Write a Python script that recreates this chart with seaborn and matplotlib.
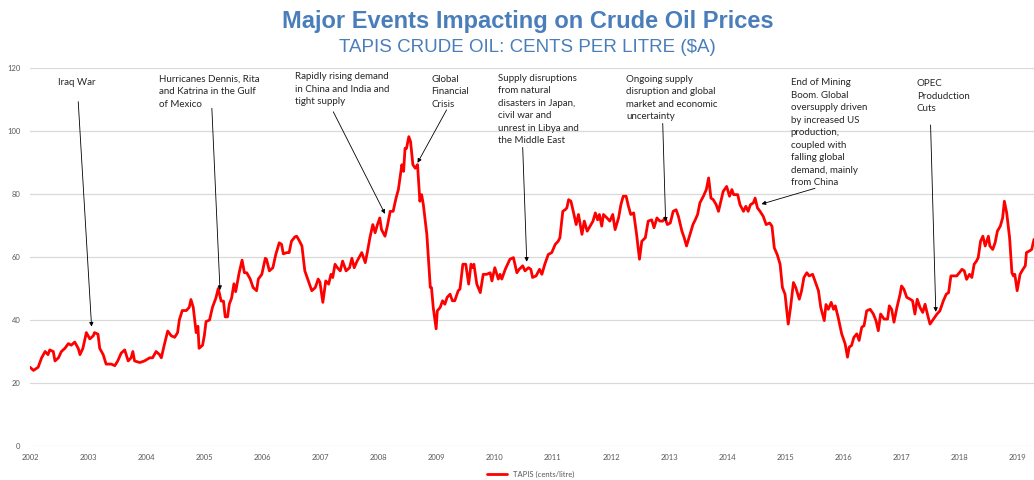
import matplotlib
matplotlib.use('Agg')
import pandas as pd
import matplotlib.pyplot as plt
import seaborn as sns

# TAPIS crude oil, cents per litre
years = [2002.00, 2002.06, 2002.14, 2002.20, 2002.26, 2002.31, 2002.34, 2002.40, 2002.43, 2002.49,
         2002.54, 2002.60, 2002.66, 2002.71, 2002.77, 2002.83, 2002.86, 2002.91, 2002.97, 2003.03,
         2003.09, 2003.11, 2003.17, 2003.20, 2003.26, 2003.31, 2003.40, 2003.46, 2003.51, 2003.57,
         2003.63, 2003.69, 2003.74, 2003.77, 2003.80, 2003.89, 2003.97, 2004.06, 2004.11, 2004.17,
         2004.23, 2004.26, 2004.31, 2004.37, 2004.43, 2004.49, 2004.54, 2004.57, 2004.62, 2004.69,
         2004.74, 2004.77, 2004.81, 2004.86, 2004.89, 2004.91, 2004.97, 2005.00, 2005.03, 2005.09,
         2005.14, 2005.20, 2005.24, 2005.29, 2005.33, 2005.36, 2005.40, 2005.43, 2005.47, 2005.51,
         2005.54, 2005.57, 2005.60, 2005.65, 2005.69, 2005.73,
         2005.79, 2005.84, 2005.90, 2005.93, 2005.99, 2006.05, 2006.07, 2006.12, 2006.18, 2006.23,
         2006.29, 2006.33, 2006.36, 2006.42, 2006.46, 2006.50, 2006.56, 2006.59, 2006.64, 2006.68,
         2006.73, 2006.79, 2006.85, 2006.91, 2006.96, 2006.99, 2007.04, 2007.09, 2007.14, 2007.18,
         2007.21, 2007.25, 2007.29, 2007.34, 2007.38, 2007.44, 2007.50, 2007.54, 2007.58, 2007.63,
         2007.71, 2007.77, 2007.81, 2007.85, 2007.90, 2007.94, 2007.98, 2008.02, 2008.05, 2008.11,
         2008.15, 2008.20, 2008.25, 2008.30, 2008.34, 2008.40, 2008.43, 2008.455, 2008.48, 2008.52,
         2008.55, 2008.59, 2008.63, 2008.67, 2008.71, 2008.74, 2008.77, 2008.83, 2008.89, 2008.91,
         2008.94, 2008.99, 2009.01, 2009.06, 2009.10, 2009.14, 2009.18, 2009.23, 2009.27, 2009.31,
         2009.37, 2009.40, 2009.45, 2009.50, 2009.55, 2009.59, 2009.62, 2009.64, 2009.69, 2009.75,
         2009.80, 2009.86, 2009.92, 2009.95, 2010.00, 2010.06,
         2010.09, 2010.12, 2010.18, 2010.26, 2010.32, 2010.38, 2010.42, 2010.48, 2010.52, 2010.58,
         2010.62, 2010.65, 2010.71, 2010.77, 2010.81, 2010.86, 2010.92, 2010.98, 2011.04, 2011.09,
         2011.12, 2011.17, 2011.21, 2011.24, 2011.27, 2011.31, 2011.35, 2011.40, 2011.44, 2011.50,
         2011.54, 2011.59, 2011.64, 2011.69, 2011.73, 2011.77, 2011.80, 2011.84, 2011.87, 2011.93,
         2011.98, 2012.03, 2012.07, 2012.13, 2012.17, 2012.21, 2012.26, 2012.30, 2012.34, 2012.39,
         2012.44, 2012.49, 2012.53, 2012.59, 2012.64, 2012.70, 2012.74, 2012.79, 2012.84, 2012.89,
         2012.93, 2012.97, 2013.02, 2013.07, 2013.12, 2013.16, 2013.22, 2013.26, 2013.30, 2013.36,
         2013.41, 2013.45, 2013.49, 2013.53, 2013.59, 2013.64, 2013.68, 2013.72, 2013.76, 2013.81,
         2013.85, 2013.89, 2013.93, 2013.99, 2014.04, 2014.08, 2014.11, 2014.18, 2014.22, 2014.28,
         2014.32, 2014.36, 2014.40, 2014.45, 2014.48, 2014.52,
         2014.565, 2014.62, 2014.67, 2014.73, 2014.77, 2014.81, 2014.86, 2014.91, 2014.95, 2014.995,
         2015.05, 2015.09, 2015.14, 2015.18, 2015.24, 2015.28, 2015.32, 2015.37, 2015.41, 2015.47,
         2015.51, 2015.57, 2015.61, 2015.67, 2015.70, 2015.74, 2015.79, 2015.83, 2015.86, 2015.91,
         2015.97, 2016.03, 2016.07, 2016.10, 2016.14, 2016.18, 2016.23, 2016.27, 2016.315, 2016.355,
         2016.40, 2016.46, 2016.515, 2016.56, 2016.60, 2016.64, 2016.70, 2016.76, 2016.79, 2016.83,
         2016.87, 2016.92, 2016.975, 2017.00, 2017.04, 2017.09, 2017.15, 2017.19, 2017.23, 2017.27,
         2017.32, 2017.365, 2017.405, 2017.445, 2017.49, 2017.55, 2017.61, 2017.66, 2017.72, 2017.77,
         2017.81, 2017.85, 2017.89, 2017.95, 2017.995, 2018.04, 2018.08, 2018.12, 2018.17, 2018.21,
         2018.25, 2018.29, 2018.32, 2018.36, 2018.40, 2018.44, 2018.495, 2018.52, 2018.57, 2018.61,
         2018.65, 2018.70, 2018.74, 2018.77, 2018.81, 2018.86, 2018.90, 2018.925, 2018.95, 2018.99,
         2019.04, 2019.09, 2019.13, 2019.15, 2019.20, 2019.24, 2019.28]

cents = [25, 24, 25, 28, 30, 29, 30.5, 30, 27, 28,
         30, 31, 32.5, 32, 33, 31, 29, 31, 36, 34,
         35, 36, 35.5, 31, 29, 26, 26, 25.5, 27, 29.5,
         30.5, 27, 28, 30, 27, 26.5, 27, 28, 28, 30,
         29, 28, 32, 36.5, 35, 34.5, 36, 40, 43, 43,
         44, 46.5, 44, 36, 38, 31, 32, 35, 39.5, 40,
         44, 47, 50, 46, 46, 41, 41, 45, 47, 51.5,
         49, 52, 55, 59, 55, 55,
         53, 50.3, 49.3, 53, 54.5, 59.6, 59.3, 55.6, 56.6, 60.8,
         64.5, 64, 61, 61.4, 61.4, 65, 66.4, 66.6, 65, 63.5,
         55.6, 52.4, 49.3, 50.3, 53, 52, 45.6, 52.4, 51.4, 54.5,
         53.5, 57.7, 56.6, 55.6, 58.7, 55.6, 56.6, 59.6, 56.6, 58.7,
         61.4, 58.2, 61.9, 66.1, 70.3, 67.7, 70.3, 72.4, 68.7, 66.6,
         69.8, 74.5, 74.5, 78.7, 81.4, 89.3, 87.2, 94.5, 94.5, 98.2,
         96.6, 89.3, 88.2, 89.3, 77.7, 79.8, 76.6, 67.2, 50.3, 50.3,
         44, 37.2, 42.9, 44, 46.1, 45, 47.2, 48.2, 46.1, 46.1,
         49.3, 49.8, 57.7, 57.7, 51.4, 57.7, 56.6, 57.7, 51.4, 48.7,
         54.5, 54.5, 55, 52.4, 56.6, 53,
         54.5, 53, 56.1, 59.3, 59.8, 55, 56.1, 57.2, 55.6, 56.6,
         56.1, 53.5, 54, 56.1, 54.5, 57.7, 60.8, 61.4, 64, 65,
         66.1, 74.5, 75, 75.6, 78.2, 77.7, 74.5, 70.3, 73.5, 67.2,
         71.4, 68.2, 69.8, 71.4, 74, 71.8, 73.5, 69.8, 73.5, 72.4,
         71.4, 73.5, 68.7, 72.4, 76.6, 79.3, 79.3, 76.1, 73.5, 74,
         67.2, 59.3, 65, 66.1, 71.4, 71.8, 69.3, 72.4, 71.4, 71.4,
         72.4, 70.3, 70.8, 74.5, 75, 72.9, 68.2, 66.1, 63.5, 67.2,
         70.3, 71.8, 73.5, 77.2, 79.3, 81.4, 85.1, 78.7, 78.2, 76.6,
         74.5, 77.7, 80.8, 82.4, 79.3, 81.4, 79.8, 79.8, 76.6, 74.5,
         76.1, 74.5, 76.6, 77.2, 78.7, 75.6,
         74.5, 72.9, 70.3, 70.8, 69.8, 62.9, 60.8, 57.7, 50.3, 48.2,
         38.7, 44, 51.9, 50.3, 46.6, 49.3, 53.5, 55, 54, 54.5,
         52.4, 49.3, 44, 39.8, 44.9, 43.4, 45.6, 43.4, 44.5, 40.8,
         35.6, 32.4, 28.2, 31.4, 31.9, 34.5, 35.6, 33.5, 37.7, 38.2,
         42.9, 43.4, 41.9, 39.8, 36.6, 41.9, 40.3, 40.3, 44.5, 43.4,
         39.3, 43.9, 48.2, 50.8, 49.8, 47.2, 46.6, 46.1, 41.9, 46.6,
         43.9, 42.4, 45, 41.9, 38.7, 40.3, 41.9, 42.9, 46.1, 48.2,
         48.7, 54, 54, 54, 55, 56.1, 55.6, 52.9, 54.5, 53.5,
         57.7, 58.7, 59.8, 65, 66.6, 63.5, 66.6, 63.5, 62.4, 64.5,
         68.2, 69.8, 72.4, 77.7, 74, 66.1, 55, 54, 54.5, 49.3,
         54.5, 56.1, 57.2, 61.4, 61.9, 62.4, 65.6]

event_text = ['Iraq War',
              'Hurricanes Dennis, Rita\nand Katrina in the Gulf\nof Mexico',
              'Rapidly rising demand\nin China and India and\ntight supply',
              'Global\nFinancial\nCrisis',
              'Supply disruptions\nfrom natural\ndisasters in Japan,\ncivil war and\nunrest in Libya and\nthe Middle East',
              'Ongoing supply\ndisruption and global\nmarket and economic\nuncertainty',
              'End of Mining\nBoom. Global\noversupply driven\nby increased US\nproduction,\ncoupled with\nfalling global\ndemand, mainly\nfrom China',
              'OPEC\nProdudction\nCuts']
event_year = [2003.06, 2005.27, 2008.11, 2008.67, 2010.55, 2012.94, 2014.59, 2017.59]
event_cents = [37.9, 49.5, 73.7, 89.9, 58.5, 71.2, 76.8, 42.6]

# where each label and arrow tail sit (data coordinates)
label_pos = [(2002.48, 116.7), (2004.22, 117.9), (2006.56, 118.7), (2008.91, 117.9),
             (2010.05, 118.1), (2012.26, 117.9), (2015.09, 116.7), (2017.26, 116.5)]
tail_pos = [(2002.83, 109.3), (2005.13, 107.2), (2007.22, 106.1), (2009.17, 106.7),
            (2010.48, 94.8), (2012.89, 102.4), (2015.51, 81.8), (2017.50, 101.9)]

sns.set_theme(style='whitegrid')
plt.rcParams['font.family'] = ['Lato', 'DejaVu Sans']

fig = plt.figure(figsize=(10.34, 4.8), dpi=100)
ax = fig.add_axes([30 / 1034, 34 / 480, 1004 / 1034, 378 / 480])

df = pd.DataFrame({'year': years, 'cents': cents})
sns.lineplot(data=df, x='year', y='cents', color='#ff0000', linewidth=2.0,
             ax=ax, label='TAPIS (cents/litre)', legend=False)

ax.set_xlim(2002, 2019.28)
ax.set_ylim(0, 120)
ax.set_xticks(range(2002, 2020))
ax.set_yticks(range(0, 121, 20))
ax.set_xlabel('')
ax.set_ylabel('')
ax.grid(axis='x', visible=False)
ax.grid(axis='y', color='#d9d9d9', linewidth=0.9)
for s in ax.spines.values():
    s.set_visible(False)
ax.tick_params(axis='both', length=0, labelsize=5.5, labelcolor='#595959')
ax.tick_params(axis='y', pad=7)
ax.tick_params(axis='x', pad=6)

for txt, ex, ey, lp, tp in zip(event_text, event_year, event_cents, label_pos, tail_pos):
    ax.text(lp[0], lp[1], txt, ha='left', va='top', fontsize=7.0, color='#262626',
            linespacing=1.5)
    ax.annotate('', xy=(ex, ey), xytext=tp,
                arrowprops=dict(arrowstyle='-|>', color='black', lw=0.6,
                                mutation_scale=6, shrinkA=0, shrinkB=0))

fig.legend(handles=[ax.get_lines()[0]], labels=['TAPIS (cents/litre)'],
           loc='center', bbox_to_anchor=(0.513, 0.011), frameon=False,
           fontsize=5.5, handlelength=2.6, labelcolor='#595959')

fig.text(0.51, 0.956, 'Major Events Impacting on Crude Oil Prices', ha='center', va='center',
         fontsize=17, fontweight='bold', color='#4a7ebb', family='Liberation Sans')
fig.text(0.51, 0.9, 'TAPIS CRUDE OIL: CENTS PER LITRE ($A)', ha='center', va='center',
         fontsize=13.5, color='#4a7ebb', family='Liberation Sans')

fig.savefig('out.png', dpi=100)
